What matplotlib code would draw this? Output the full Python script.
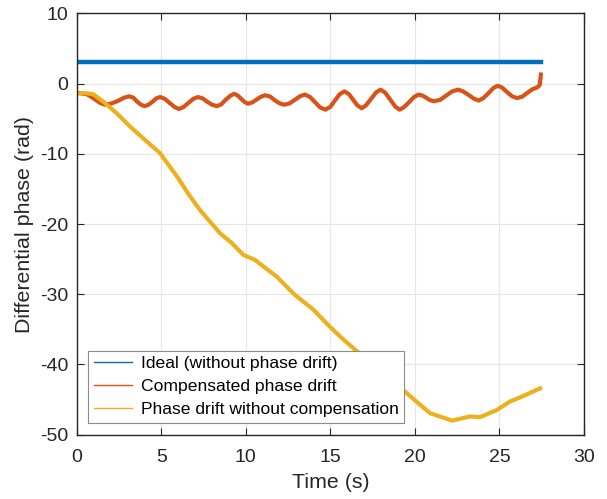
import numpy as np
import matplotlib
matplotlib.use('Agg')
import matplotlib.pyplot as plt

# Datos
t_ideal = [0.0, 27.45]
phase_ideal = [3.1, 3.1]

t_comp = [0.0, 0.6, 1.0, 1.35, 1.67, 2.0, 2.4, 2.8, 3.1, 3.35, 3.55, 3.8,
          4.01, 4.25, 4.47, 4.7, 4.93, 5.2, 5.5, 5.8, 6.05, 6.3, 6.6, 6.9,
          7.17, 7.45, 7.7, 8.0, 8.29, 8.55, 8.8, 9.1, 9.31, 9.5, 9.72, 9.95,
          10.13, 10.4, 10.65, 10.9, 11.15, 11.45, 11.7, 12.0, 12.27, 12.6,
          12.9, 13.2, 13.49, 13.8, 14.1, 14.4, 14.71, 15.0, 15.27, 15.55,
          15.84, 16.1, 16.35, 16.6, 16.85, 17.1, 17.4, 17.7, 17.97, 18.25,
          18.55, 18.85, 19.1, 19.35, 19.65, 19.95, 20.22, 20.45, 20.7, 20.9,
          21.13, 21.5, 21.85, 22.2, 22.56, 22.85, 23.17, 23.5, 23.78, 24.05,
          24.35, 24.65, 24.9, 25.15, 25.45, 25.75, 26.03, 26.35, 26.65, 26.95,
          27.25, 27.38, 27.45]
phase_comp = [-1.3, -1.5, -2.1, -2.7, -3.0, -2.85, -2.5, -2.0, -1.8, -2.0,
              -2.5, -3.0, -3.2, -3.0, -2.6, -2.1, -1.9, -2.15, -2.75, -3.35,
              -3.6, -3.35, -2.75, -2.15, -1.9, -2.1, -2.55, -3.0, -3.2, -2.95,
              -2.3, -1.7, -1.45, -1.65, -2.15, -2.65, -2.85, -2.65, -2.25,
              -1.85, -1.65, -1.85, -2.35, -2.8, -3.0, -2.8, -2.3, -1.8, -1.55,
              -1.9, -2.65, -3.4, -3.7, -3.3, -2.4, -1.5, -1.1, -1.5, -2.3,
              -3.1, -3.5, -3.1, -2.2, -1.25, -0.85, -1.3, -2.3, -3.3, -3.7,
              -3.35, -2.65, -1.9, -1.55, -1.7, -2.05, -2.35, -2.5, -2.3, -1.7,
              -1.1, -0.85, -1.1, -1.6, -2.15, -2.4, -2.05, -1.35, -0.6, -0.3,
              -0.55, -1.2, -1.8, -2.05, -1.85, -1.3, -0.8, -0.5, -0.2, 1.3]

t_drift = [0.0, 0.5, 0.98, 1.57, 2.36, 3.15, 3.94, 4.93, 6.01, 6.6, 7.29,
           8.47, 9.17, 9.86, 10.54, 11.83, 12.91, 14.0, 14.88, 15.57, 16.46,
           17.3, 18.2, 19.1, 20.0, 20.9, 22.2, 23.26, 23.85, 24.84, 25.6,
           26.5, 27.4]
phase_drift = [-1.35, -1.35, -1.5, -2.56, -4.2, -6.1, -7.8, -9.9, -13.5,
               -15.7, -18.0, -21.3, -22.7, -24.4, -25.1, -27.5, -30.1, -32.2,
               -34.4, -36.0, -37.9, -39.5, -41.4, -43.2, -45.1, -46.95, -48.0,
               -47.4, -47.5, -46.5, -45.3, -44.4, -43.4]

labels = ['Ideal (without phase drift)', 'Compensated phase drift',
          'Phase drift without compensation']
colors = ['#0072BD', '#D95319', '#EDB120']

plt.rcParams['font.family'] = ['Liberation Sans', 'DejaVu Sans']
plt.rcParams['axes.unicode_minus'] = False

fig = plt.figure(figsize=(6.07, 4.99), dpi=100)
ax = fig.add_axes([0.1264, 0.1289, 0.8357, 0.8441])

# Curvas
ax.plot(t_ideal, phase_ideal, color=colors[0], lw=3.2, label=labels[0])
ax.plot(t_comp, phase_comp, color=colors[1], lw=3.0, label=labels[1],
        solid_joinstyle='round')
ax.plot(t_drift, phase_drift, color=colors[2], lw=3.0, label=labels[2],
        solid_joinstyle='round')

ax.set_xlim(0, 30)
ax.set_ylim(-50, 10)
ax.set_xticks(np.arange(0, 31, 5))
ax.set_yticks(np.arange(-50, 11, 10))

# Estilo tipo MATLAB
ax.grid(True, color='#e6e6e6', lw=0.8)
ax.set_axisbelow(True)
for sp in ax.spines.values():
    sp.set_color('#262626')
    sp.set_linewidth(1.0)
ax.tick_params(direction='in', top=True, right=True, length=5, width=0.8,
               colors='#262626', labelsize=14)
ax.tick_params(axis='x', pad=10)
ax.tick_params(axis='y', pad=6)

ax.set_xlabel('Time (s)', fontsize=15.4, color='#262626', labelpad=5)
ax.set_ylabel('Differential phase (rad)', fontsize=15.4, color='#262626',
              labelpad=4)

leg = ax.legend(loc='lower left', bbox_to_anchor=(0.0229, 0.0285),
                borderaxespad=0, fontsize=12.6, fancybox=False,
                edgecolor='#8c8c8c', framealpha=1, handlelength=2.2,
                handletextpad=0.5, labelspacing=0.45, borderpad=0.3)
leg.get_frame().set_linewidth(0.8)
for line in leg.get_lines():
    line.set_linewidth(1.0)

fig.savefig('out.png', dpi=100)
